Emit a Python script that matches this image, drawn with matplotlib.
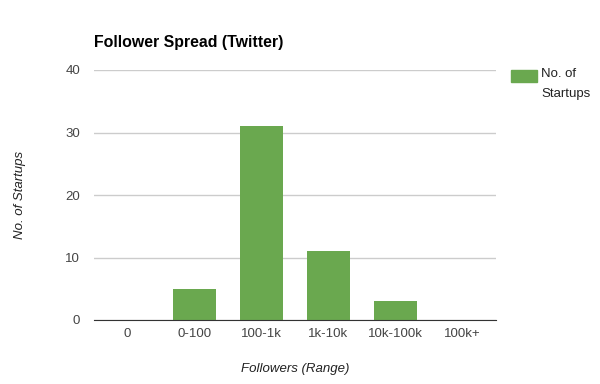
import matplotlib
matplotlib.use("Agg")
import matplotlib.pyplot as plt
from matplotlib.patches import Rectangle

categories = ["0", "0-100", "100-1k", "1k-10k", "10k-100k", "100k+"]
startups = [0, 5, 31, 11, 3, 0]
y_ticks = [0, 10, 20, 30, 40]
series_name = "No. of\nStartups"

plt.rcParams["font.family"] = ["Liberation Sans", "DejaVu Sans"]

fig = plt.figure(figsize=(6, 3.84), dpi=100)
ax = fig.add_axes([94 / 600, 64 / 384, 402 / 600, 250 / 384])

bar_color = "#6aa84f"
ax.bar(range(len(categories)), startups, width=0.63, color=bar_color, zorder=3)

ax.set_xlim(-0.5, len(categories) - 0.5)
ax.set_ylim(0, 40)
ax.set_yticks(y_ticks)
ax.set_xticks(range(len(categories)))
ax.set_xticklabels(categories)
ax.tick_params(axis="both", length=0, colors="#444444", labelsize=9.5)
ax.tick_params(axis="y", pad=10)
ax.tick_params(axis="x", pad=6)

ax.grid(axis="y", color="#cccccc", linewidth=1, zorder=0)
for s in ["top", "right", "left"]:
    ax.spines[s].set_visible(False)
ax.spines["bottom"].set_color("#333333")
ax.spines["bottom"].set_zorder(4)

fig.text(94 / 600, 1 - 43 / 384, "Follower Spread (Twitter)", fontsize=11.4,
         fontweight="bold", color="#000000", va="center", ha="left")
fig.text(295 / 600, 1 - 369 / 384, "Followers (Range)", fontsize=9.5,
         style="italic", color="#222222", ha="center", va="center")
fig.text(20 / 600, 1 - 195 / 384, "No. of Startups", fontsize=9.5,
         style="italic", color="#222222", ha="center", va="center", rotation=90)

# legend drawn by hand so the swatch lines up with the first text line
fig.patches.append(Rectangle((511 / 600, 1 - 82 / 384), 26 / 600, 12 / 384,
                             transform=fig.transFigure, color=bar_color))
fig.text(541 / 600, 1 - 68 / 384, series_name, fontsize=9.5, color="#222222",
         ha="left", va="top", linespacing=1.85)

fig.savefig("out.png", dpi=100)
